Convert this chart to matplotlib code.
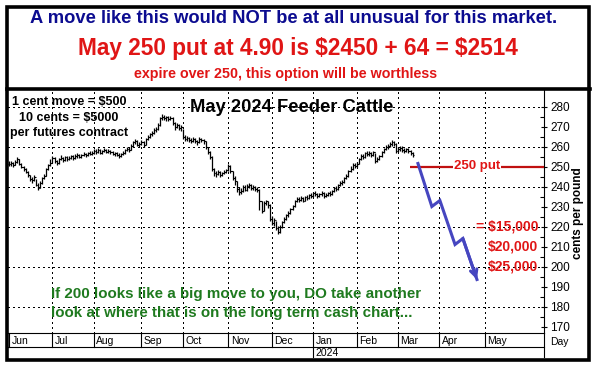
import matplotlib
matplotlib.use("Agg")
import matplotlib.pyplot as plt
from matplotlib.lines import Line2D
from matplotlib.patches import Rectangle
from matplotlib.transforms import blended_transform_factory

plt.rcParams["font.family"] = ["Liberation Sans", "DejaVu Sans"]

W, H = 596, 368

# daily bars, May 2024 feeder cattle, Jun 2023 .. early Mar 2024
closes = [
    251.5, 252, 251, 252.5, 254, 251.5, 250, 249, 247.5, 246,
    244, 243.5, 245, 241, 239.5, 242, 244.5, 245.5, 249, 251,
    252, 254.5, 253, 252, 254, 254.5, 253.5, 255, 254, 254.5,
    255.5, 254.5, 255.5, 256, 255, 256, 256.5, 256, 257, 256.5,
    257, 258, 257.5, 258.5, 257, 258, 258.5, 257.5, 258, 257.5,
    256.5, 257, 256, 255.5, 256.5, 257, 258.5, 259, 258.5, 260.5,
    262.5, 263, 261, 261.5, 262.5, 261, 264, 265, 266.5, 267,
    268.5, 269, 271, 274.5, 275, 274.5, 275, 274, 274.5, 272,
    270, 271, 269.5, 270, 265, 264, 264.5, 263.5, 263, 264,
    263, 262.5, 264, 263.5, 263, 260, 257.5, 255, 249, 247,
    246.5, 247.5, 246, 247, 247.5, 248.5, 250.5, 248, 244.5, 243,
    239, 237.5, 238, 240, 238.5, 240.5, 241, 239.5, 240, 239,
    238.5, 233, 228, 232, 233, 231, 224, 222, 223.5, 219.5,
    217.5, 220, 222.5, 224, 226, 227, 229, 230.5, 233, 234,
    233.5, 234.5, 233, 235, 234.5, 236, 235.5, 237, 236.5, 235.5,
    236.5, 237, 235.5, 236, 237, 236.5, 238, 239.5, 239, 241,
    242, 242.5, 244.5, 245.5, 248, 249, 251, 250.5, 251.5, 254,
    255.5, 255, 257, 256.5, 257, 256, 257.5, 253, 254, 255.5,
    257.5, 259, 260, 260.5, 261.5, 262.5, 261.5, 258, 259, 259.5,
    258.5, 258, 259, 258, 257, 256,
]
highs = [
    253, 253, 252.5, 253.5, 255, 254, 252, 250.5, 249.5, 248,
    246, 245, 246, 244, 242, 243, 245, 246.5, 249.5, 251.5,
    254, 255.5, 255, 253.5, 254.5, 256, 255, 255.5, 255.5, 255.5,
    256, 256, 256.5, 257, 256.5, 256.5, 257.5, 257, 257.5, 258,
    258, 259, 259, 259.5, 259, 258.5, 259.5, 259, 259, 258.5,
    258, 257.5, 257.5, 257, 257, 258, 259, 260, 260, 261.5,
    263, 264, 263.5, 262.5, 263.5, 263, 264.5, 266, 267, 268,
    269.5, 270, 272, 275, 276.5, 276, 275.5, 275.5, 275.5, 275,
    272.5, 272, 271.5, 271, 269, 266, 265.5, 265, 264.5, 265,
    264.5, 263.5, 265, 264.5, 264, 263, 260, 258, 255.5, 249.5,
    248, 248.5, 248, 247.5, 248.5, 249, 251.5, 251, 248, 245.5,
    243, 240, 239.5, 241, 241, 241.5, 242, 241.5, 241, 240.5,
    240, 239, 233, 233, 233.5, 233, 231.5, 225.5, 224.5, 223,
    220.5, 221, 223, 225, 226.5, 228, 229.5, 231, 233.5, 235,
    235, 235.5, 235, 235.5, 236, 236.5, 237, 237.5, 238, 237,
    237, 238, 237.5, 237, 237.5, 238, 238.5, 240, 240.5, 241.5,
    243, 243.5, 245, 246.5, 248.5, 250.5, 252, 252, 252.5, 254.5,
    256.5, 256.5, 257.5, 258, 258, 257.5, 258, 257, 255, 256,
    258, 259.5, 261, 261.5, 262.5, 263.5, 263, 262, 260, 260.5,
    260.5, 259.5, 259.5, 259.5, 258.5, 257.5,
]
lows = [
    250.5, 250.5, 250, 251, 252, 251, 249.5, 248, 247, 245,
    243, 242, 243, 240.5, 238.5, 239.5, 241.5, 244, 245.5, 248.5,
    250.5, 252, 252, 251, 251.5, 253.5, 252.5, 253, 253, 253.5,
    254, 253.5, 254, 254.5, 254.5, 254.5, 255.5, 255, 255.5, 256,
    256, 256.5, 256.5, 257, 256.5, 256.5, 257.5, 257, 257, 256.5,
    256, 255.5, 255.5, 254.5, 255, 256, 256.5, 258, 257.5, 258.5,
    260, 261.5, 260.5, 260, 261, 260, 261, 263.5, 264.5, 265.5,
    266.5, 267.5, 268.5, 270.5, 273.5, 273.5, 273, 273, 273.5, 271,
    268.5, 269.5, 268.5, 268, 264, 263, 263, 262.5, 262, 262.5,
    262, 261, 262, 262.5, 261.5, 259, 256.5, 254, 248, 245.5,
    245, 246, 245, 245.5, 246.5, 247, 248, 247, 243.5, 241,
    237.5, 236, 236.5, 237.5, 238, 238, 239.5, 238.5, 238.5, 238,
    237.5, 228.5, 227, 228, 231, 229.5, 223, 221, 220.5, 218.5,
    216.5, 217, 219.5, 222, 223.5, 225, 226.5, 228.5, 230, 232.5,
    232.5, 233, 232.5, 233, 233.5, 234, 234.5, 235, 235.5, 234.5,
    235, 235.5, 234.5, 235, 235.5, 235.5, 236, 237.5, 238, 238.5,
    240.5, 241, 242, 244, 245, 247.5, 248.5, 249.5, 250, 251.5,
    253.5, 254, 254.5, 255.5, 255.5, 255, 255.5, 252, 252.5, 253.5,
    255, 257, 258.5, 259, 260, 260.5, 260.5, 257, 257.5, 258,
    257.5, 257, 257.5, 257, 256, 255,
]

month_labels = ["Jun", "Jul", "Aug", "Sep", "Oct", "Nov", "Dec",
                "Jan", "Feb", "Mar", "Apr", "May"]
month_starts = [0, 21, 41, 64, 84, 106, 127, 147, 168, 188, 208, 230]
year_label = "2024"
year_start = 147

y_ticks = list(range(170, 290, 10))
grid_levels = [180, 200, 220, 240, 260, 280]

put_strike = 250
put_start = 193.7
put_label_x = 226

arrow_x = [197.6, 204.3, 208.2, 215.5, 219.3, 226.1]
arrow_y = [251.5, 230, 233, 211, 214, 193.5]

loss_levels = [220, 210, 200]
loss_labels = [r"= \$15,000", r"\$20,000", r"\$25,000"]

RED = "#e01515"
DOT = (0, (1, 2.2))


def fx(px):
    return px / W


def fy(py):
    return 1 - py / H


fig = plt.figure(figsize=(W / 100, H / 100), dpi=100)
fig.patch.set_facecolor("white")

ax = fig.add_axes([fx(8), fy(333), fx(544) - fx(8), fy(90) - fy(333)])
ax.set_xlim(-0.5, 258.5)
ax.set_ylim(166.75, 288.25)
for side in ["left", "top"]:
    ax.spines[side].set_visible(False)
for side in ["right", "bottom"]:
    ax.spines[side].set_linewidth(0.8)

ax.set_xticks([])
ax.yaxis.tick_right()
ax.set_yticks(y_ticks)
ax.set_yticks([t + 5 for t in y_ticks[:-1]], minor=True)
ax.tick_params(axis="y", which="major", direction="inout", length=5,
               width=0.8, labelsize=8.5, pad=2)
ax.tick_params(axis="y", which="minor", direction="in", length=3, width=0.8)

for g in grid_levels:
    ax.axhline(g, color="black", lw=1.0, ls=DOT, zorder=1, antialiased=False)
for m in month_starts[1:]:
    ax.axvline(m, color="black", lw=1.0, ls=DOT, zorder=1, antialiased=False)

# OHLC bars
xs = list(range(len(closes)))
opens = [closes[0]] + closes[:-1]
ax.vlines(xs, lows, highs, color="black", lw=0.9, zorder=3)
ax.hlines(opens, [x - 0.7 for x in xs], xs, color="black", lw=0.8, zorder=3)
ax.hlines(closes, xs, [x + 0.7 for x in xs], color="black", lw=0.8, zorder=3)

# put strike line
ax.hlines(put_strike, put_start, ax.get_xlim()[1], color="#c01010", lw=1.6,
          zorder=4)
ax.text(put_label_x, put_strike, "250 put", color=RED, fontsize=9.5,
        weight="bold", ha="center", va="center", zorder=5,
        bbox=dict(facecolor="white", edgecolor="none", pad=0.5))

# hypothetical move
ax.plot(arrow_x, arrow_y, color="#4646c0", lw=2.2, zorder=5,
        solid_joinstyle="miter")
ax.annotate("", xy=(arrow_x[-1], arrow_y[-1]),
            xytext=(arrow_x[-2], arrow_y[-2]),
            arrowprops=dict(arrowstyle="->", color="#4646c0", lw=2.2,
                            mutation_scale=12, shrinkA=0, shrinkB=0),
            zorder=5)

tr = blended_transform_factory(ax.transAxes, ax.transData)
for lev, lab in zip(loss_levels, loss_labels):
    ax.text(0.989, lev, lab, transform=tr, color=RED, fontsize=10,
            weight="bold", ha="right", va="center", zorder=5)

# in-chart notes
fig.text(fx(292), fy(108), "May 2024 Feeder Cattle", fontsize=13.2,
         weight="bold", ha="center", va="center")
for yy, line in zip([102, 118, 133], [r"1 cent move = \$500",
                                      r"10 cents = \$5000",
                                      "per futures contract"]):
    fig.text(fx(69), fy(yy), line, fontsize=9, weight="bold",
             ha="center", va="center")
fig.text(fx(51), fy(294), "If 200 looks like a big move to you, DO take another",
         color="#1f7a1f", fontsize=10.9, weight="bold", va="center")
fig.text(fx(51), fy(313), "look at where that is on the long term cash chart...",
         color="#1f7a1f", fontsize=10.9, weight="bold", va="center")

# header
fig.text(fx(294), fy(18.5),
         "A move like this would NOT be at all unusual for this market.",
         color="#0c0c90", fontsize=13.2, weight="bold", ha="center",
         va="center")
fig.text(fx(298), fy(48.5), r"May 250 put at 4.90 is \$2450 + 64 = \$2514",
         color=RED, fontsize=16.3, weight="bold", ha="center", va="center")
fig.text(fx(286), fy(74), "expire over 250, this option will be worthless",
         color=RED, fontsize=10.3, weight="bold", ha="center", va="center")

# axis title
fig.text(fx(578), fy(213), "cents per pound", fontsize=8.5, weight="bold",
         rotation=90, ha="center", va="center")

# month / year rows
tm = blended_transform_factory(ax.transData, fig.transFigure)
for m, lab in zip(month_starts, month_labels):
    fig.add_artist(Line2D([m, m], [fy(333), fy(347)], color="black", lw=0.8,
                          transform=tm))
    fig.text(0, fy(340.5), lab, fontsize=7.5, va="center", ha="left",
             transform=tm).set_x(m + 1.2)
fig.add_artist(Line2D([year_start, year_start], [fy(347), fy(357)],
                      color="black", lw=0.8, transform=tm))
fig.text(0, fy(352.5), year_label, fontsize=7.5, va="center", ha="left",
         transform=tm).set_x(year_start + 1.2)
fig.add_artist(Line2D([fx(8), fx(544)], [fy(347), fy(347)], color="black",
                      lw=0.8))
fig.add_artist(Line2D([fx(544), fx(544)], [fy(333), fy(357)], color="black",
                      lw=0.8))
fig.text(fx(550), fy(342), "Day", fontsize=7.5, va="center", ha="left")

# frames
fig.add_artist(Rectangle((fx(6.5), fy(360)), fx(589.5) - fx(6.5),
                         fy(6.5) - fy(360), fill=False, edgecolor="black",
                         lw=2.6, transform=fig.transFigure))
fig.add_artist(Line2D([fx(6.5), fx(589.5)], [fy(88.5), fy(88.5)],
                      color="black", lw=2.6))

fig.savefig("out.png", dpi=100)
